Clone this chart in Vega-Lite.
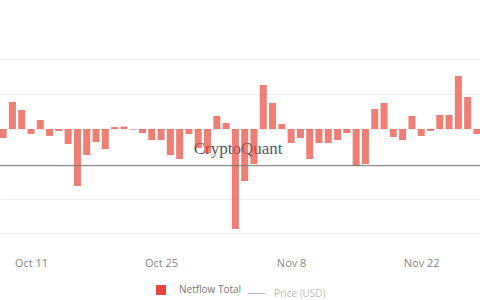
{
  "$schema": "https://vega.github.io/schema/vega-lite/v6.json",
  "width": 480,
  "height": 251,
  "autosize": {"type": "none"},
  "padding": {"left": 0, "top": 0, "right": 0, "bottom": 49},
  "background": "white",
  "config": {"view": {"stroke": null}, "font": "Open Sans"},
  "data": {
    "values": [
      {"date": "2020-10-08", "netflow": -2590, "series": "Netflow Total"},
      {"date": "2020-10-09", "netflow": 7760, "series": "Netflow Total"},
      {"date": "2020-10-10", "netflow": 5460, "series": "Netflow Total"},
      {"date": "2020-10-11", "netflow": -1440, "series": "Netflow Total"},
      {"date": "2020-10-12", "netflow": 2590, "series": "Netflow Total"},
      {"date": "2020-10-13", "netflow": -2010, "series": "Netflow Total"},
      {"date": "2020-10-14", "netflow": -575, "series": "Netflow Total"},
      {"date": "2020-10-15", "netflow": -4310, "series": "Netflow Total"},
      {"date": "2020-10-16", "netflow": -16380, "series": "Netflow Total"},
      {"date": "2020-10-17", "netflow": -7470, "series": "Netflow Total"},
      {"date": "2020-10-18", "netflow": -3740, "series": "Netflow Total"},
      {"date": "2020-10-19", "netflow": -5750, "series": "Netflow Total"},
      {"date": "2020-10-20", "netflow": 575, "series": "Netflow Total"},
      {"date": "2020-10-21", "netflow": 720, "series": "Netflow Total"},
      {"date": "2020-10-22", "netflow": -150, "series": "Netflow Total"},
      {"date": "2020-10-23", "netflow": -1150, "series": "Netflow Total"},
      {"date": "2020-10-24", "netflow": -3160, "series": "Netflow Total"},
      {"date": "2020-10-25", "netflow": -3160, "series": "Netflow Total"},
      {"date": "2020-10-26", "netflow": -7470, "series": "Netflow Total"},
      {"date": "2020-10-27", "netflow": -8620, "series": "Netflow Total"},
      {"date": "2020-10-28", "netflow": -1440, "series": "Netflow Total"},
      {"date": "2020-10-29", "netflow": -5460, "series": "Netflow Total"},
      {"date": "2020-10-30", "netflow": -6900, "series": "Netflow Total"},
      {"date": "2020-10-31", "netflow": 3740, "series": "Netflow Total"},
      {"date": "2020-11-01", "netflow": 1720, "series": "Netflow Total"},
      {"date": "2020-11-02", "netflow": -28740, "series": "Netflow Total"},
      {"date": "2020-11-03", "netflow": -14940, "series": "Netflow Total"},
      {"date": "2020-11-04", "netflow": -10060, "series": "Netflow Total"},
      {"date": "2020-11-05", "netflow": 12640, "series": "Netflow Total"},
      {"date": "2020-11-06", "netflow": 7470, "series": "Netflow Total"},
      {"date": "2020-11-07", "netflow": 1440, "series": "Netflow Total"},
      {"date": "2020-11-08", "netflow": -4020, "series": "Netflow Total"},
      {"date": "2020-11-09", "netflow": -2590, "series": "Netflow Total"},
      {"date": "2020-11-10", "netflow": -8620, "series": "Netflow Total"},
      {"date": "2020-11-11", "netflow": -4020, "series": "Netflow Total"},
      {"date": "2020-11-12", "netflow": -4020, "series": "Netflow Total"},
      {"date": "2020-11-13", "netflow": -3160, "series": "Netflow Total"},
      {"date": "2020-11-14", "netflow": -1150, "series": "Netflow Total"},
      {"date": "2020-11-15", "netflow": -10630, "series": "Netflow Total"},
      {"date": "2020-11-16", "netflow": -10060, "series": "Netflow Total"},
      {"date": "2020-11-17", "netflow": 5750, "series": "Netflow Total"},
      {"date": "2020-11-18", "netflow": 7470, "series": "Netflow Total"},
      {"date": "2020-11-19", "netflow": -2300, "series": "Netflow Total"},
      {"date": "2020-11-20", "netflow": -3160, "series": "Netflow Total"},
      {"date": "2020-11-21", "netflow": 3740, "series": "Netflow Total"},
      {"date": "2020-11-22", "netflow": -2010, "series": "Netflow Total"},
      {"date": "2020-11-23", "netflow": -575, "series": "Netflow Total"},
      {"date": "2020-11-24", "netflow": 4020, "series": "Netflow Total"},
      {"date": "2020-11-25", "netflow": 4020, "series": "Netflow Total"},
      {"date": "2020-11-26", "netflow": 15230, "series": "Netflow Total"},
      {"date": "2020-11-27", "netflow": 9200, "series": "Netflow Total"},
      {"date": "2020-11-28", "netflow": -1440, "series": "Netflow Total"}
    ]
  },
  "layer": [
    {
      "data": {"values": [{"label": "CryptoQuant"}]},
      "mark": {"type": "text", "font": "Liberation Serif", "fontSize": 17, "color": "#4f5a67"},
      "encoding": {
        "x": {"datum": {"year": 2020, "month": 11, "date": 2, "hours": 7, "utc": true}, "type": "temporal"},
        "y": {"datum": -5750, "type": "quantitative"},
        "text": {"field": "label", "type": "nominal"}
      }
    },
    {
      "mark": {"type": "bar", "width": 7, "opacity": 0.7, "clip": true},
      "encoding": {
        "x": {
          "field": "date",
          "type": "temporal",
          "scale": {
            "type": "utc",
            "padding": 0,
            "domain": [
              {"year": 2020, "month": 10, "date": 7, "hours": 15, "minutes": 55, "utc": true},
              {"year": 2020, "month": 11, "date": 28, "hours": 7, "minutes": 55, "utc": true}
            ]
          },
          "axis": {
            "values": [
              {"year": 2020, "month": 10, "date": 11, "utc": true},
              {"year": 2020, "month": 10, "date": 25, "utc": true},
              {"year": 2020, "month": 11, "date": 8, "utc": true},
              {"year": 2020, "month": 11, "date": 22, "utc": true}
            ],
            "format": "%b %-d",
            "title": null,
            "ticks": false,
            "domain": false,
            "grid": false,
            "labelColor": "#888888",
            "labelFontSize": 11,
            "labelFont": "Open Sans",
            "labelPadding": 6
          }
        },
        "y": {
          "field": "netflow",
          "type": "quantitative",
          "scale": {"domain": [-35057, 37069], "nice": false},
          "axis": {
            "values": [20000, 10000, 0, -10000, -20000, -30000],
            "labels": false,
            "ticks": false,
            "domain": false,
            "title": null,
            "grid": true,
            "gridColor": "#eeeeee"
          }
        },
        "fill": {
          "field": "series",
          "type": "nominal",
          "scale": {"range": ["#e8473b"]},
          "legend": {
            "orient": "none",
            "legendX": 155,
            "legendY": 284,
            "title": null,
            "symbolType": "square",
            "symbolSize": 100,
            "symbolOpacity": 1,
            "labelColor": "#777777",
            "labelFontSize": 10,
            "labelFont": "Open Sans",
            "labelOffset": 12
          }
        }
      }
    },
    {
      "data": {"values": [{"series": "Price (USD)"}]},
      "mark": {"type": "rule", "strokeWidth": 1},
      "encoding": {
        "y": {"datum": -10550, "type": "quantitative"},
        "stroke": {
          "field": "series",
          "type": "nominal",
          "scale": {"range": ["#777777"]},
          "legend": {
            "orient": "none",
            "legendX": 247,
            "legendY": 284,
            "title": null,
            "symbolType": "stroke",
            "symbolSize": 300,
            "symbolStrokeWidth": 1,
            "symbolOpacity": 0.5,
            "labelColor": "#bbbbbb",
            "labelFontSize": 10,
            "labelFont": "Open Sans",
            "labelOffset": 8
          }
        }
      }
    }
  ]
}
